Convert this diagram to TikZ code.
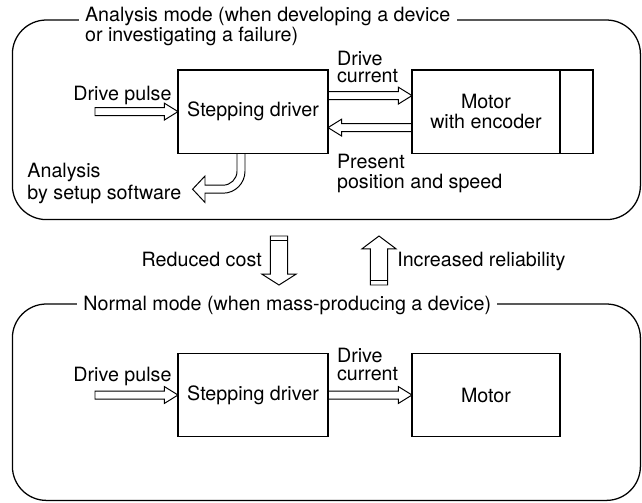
\documentclass[tikz,border=0pt]{standalone}
\usepackage{fontspec}
\setmainfont{TeX Gyre Heros}
\usetikzlibrary{calc,positioning}

\tikzset{
  box/.style={draw,line width=0.9pt,minimum width=3.75cm,minimum height=2.08cm,inner sep=0pt,outer sep=0pt},
  frame/.style={line width=0.9pt,rounded corners=0.85cm},
  title/.style={fill=white,inner xsep=0.16cm,inner ysep=1pt,align=left},
  lbl/.style={inner sep=0pt,align=left},
  blk/.style={line width=0.7pt,line join=miter}
}

% hollow block arrow: shaft half width, head half width, head length, from, to, tail
\newcommand{\hollowarrow}[6]{%
  \path (#5) coordinate (ahead) ($(#5)!#3!(#4)$) coordinate (abase);
  \draw[blk] ($(#4)!#1!90:(#5)$) -- ($(abase)!#1!90:(ahead)$) -- ($(abase)!#2!90:(ahead)$)
    -- (ahead) -- ($(abase)!#2!-90:(ahead)$) -- ($(abase)!#1!-90:(ahead)$) -- ($(#4)!#1!-90:(#5)$) #6;
}

\begin{document}
\begin{tikzpicture}[font=\fontsize{14pt}{12pt}\selectfont]
\useasboundingbox (0,0) rectangle (16.05,-12.55);

% analysis mode
\draw[frame] (0.31,-0.5) rectangle (16.01,-5.49);
\node[title,anchor=base west,font=\fontsize{14pt}{11.9pt}\selectfont] (titA) at (1.96,-1.0425)
  {Analysis mode (when developing a device\\or investigating a failure)};

\node[box] (drvA) at (6.325,-2.79) {Stepping driver};
\node[box,minimum width=3.7cm,align=center,font=\fontsize{14pt}{14.7pt}\selectfont] (motA) at (12.15,-2.79) {Motor\\with encoder};
\node[box,minimum width=0.825cm,right=0pt of motA] (encA) {};

% labels (base = last line)
\node[lbl,anchor=base west] (pulseA) at (1.83,-2.5) {Drive pulse};
\node[lbl,anchor=base west,font=\fontsize{14pt}{12.3pt}\selectfont] (curA) at (8.42,-2.0575) {Drive\\current};
\node[lbl,anchor=base west,font=\fontsize{14pt}{14.2pt}\selectfont] (posA) at (8.42,-4.7) {Present\\position and speed};
\node[lbl,anchor=base west,font=\fontsize{14pt}{15.4pt}\selectfont] (anaA) at (0.68,-4.975) {Analysis\\by setup software};

\coordinate (pulA) at (2.375,-2.79);
\coordinate (curA1) at ([yshift=0.4cm]drvA.east);
\coordinate (curA2) at ([yshift=0.4cm]motA.west);
\coordinate (posA1) at ([yshift=-0.4cm]motA.west);
\coordinate (posA2) at ([yshift=-0.4cm]drvA.east);
\hollowarrow{0.1cm}{0.21cm}{0.34cm}{pulA}{drvA.west}{-- cycle}
\hollowarrow{0.1cm}{0.21cm}{0.34cm}{curA1}{curA2}{}
\hollowarrow{0.1cm}{0.21cm}{0.34cm}{posA1}{posA2}{}

% bent arrow to the setup software
\draw[blk] ([xshift=-0.4cm]drvA.south) -- ++(0,-0.45) arc[start angle=0,end angle=-90,radius=0.35]
  -- ++(-0.45,0) -- ++(0,0.23) -- ++(-0.31,-0.33) -- ++(0.31,-0.33) -- ++(0,0.23)
  -- ++(0.45,0) arc[start angle=-90,end angle=0,radius=0.55] -- ++(0,0.45);

% switching between the modes
\coordinate (costtail) at (6.975,-5.9);
\coordinate (costtip) at (6.975,-7.125);
\coordinate (reltail) at (9.475,-7.125);
\coordinate (reltip) at (9.475,-5.9);
\hollowarrow{0.215cm}{0.425cm}{0.27cm}{costtail}{costtip}{-- cycle}
\hollowarrow{0.215cm}{0.425cm}{0.32cm}{reltail}{reltip}{-- cycle}
\draw[blk] ($(costtail)+(-0.215,-0.12)$) -- ++(0.43,0);
\draw[blk] ($(reltail)+(-0.215,0.12)$) -- ++(0.43,0);
\node[lbl,anchor=base east] (cost) at (6.55,-6.65) {Reduced cost};
\node[lbl,anchor=base west] (rel) at (9.925,-6.65) {Increased reliability};

% normal mode
\draw[frame] (0.31,-7.6) rectangle (16.01,-12.51);
\node[title,anchor=base west] (titB) at (1.92,-7.75) {Normal mode (when mass-producing a device)};

\node[box] (drvB) at (6.325,-9.875) {Stepping driver};
\node[box,minimum width=3.7cm] (motB) at (12.15,-9.875) {Motor};

\node[lbl,anchor=base west] (pulseB) at (1.83,-9.54) {Drive pulse};
\node[lbl,anchor=base west,font=\fontsize{14pt}{12.8pt}\selectfont] (curB) at (8.42,-9.52) {Drive\\current};

\coordinate (pulB) at (2.375,-9.875);
\hollowarrow{0.1cm}{0.21cm}{0.34cm}{pulB}{drvB.west}{-- cycle}
\hollowarrow{0.1cm}{0.21cm}{0.34cm}{drvB.east}{motB.west}{}
\end{tikzpicture}
\end{document}
